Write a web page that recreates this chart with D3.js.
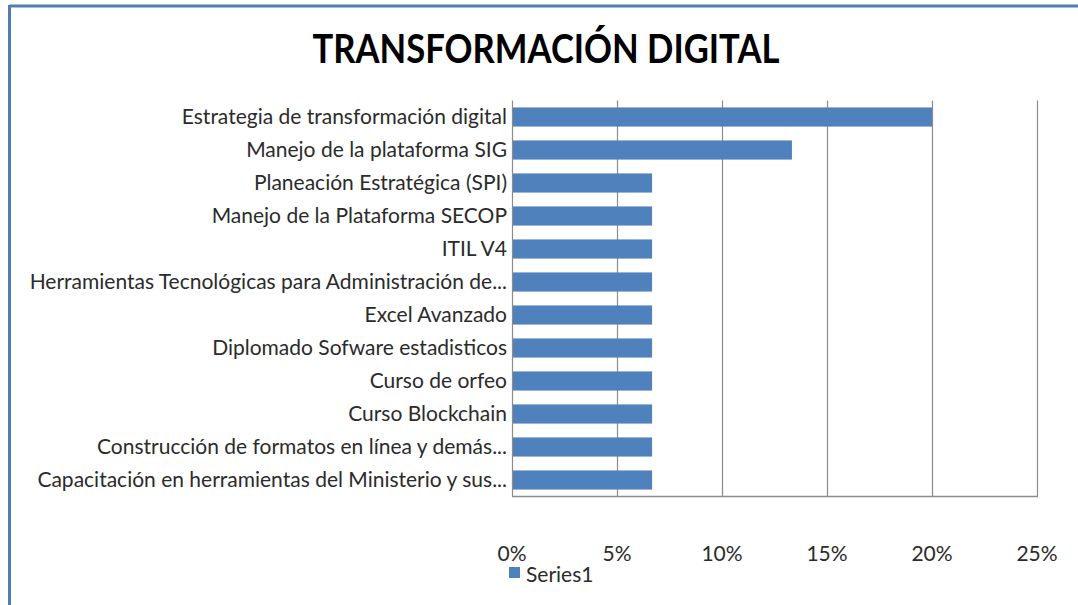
<!DOCTYPE html>
<html><head><meta charset="utf-8">
<script src="https://cdn.jsdelivr.net/npm/d3@7"></script>
<style>html,body{margin:0;padding:0;background:#fff;}svg{display:block;}</style>
</head><body>
<svg id="chart" width="1078" height="605"></svg>
<script>
const title = "TRANSFORMACIÓN DIGITAL";
const categories = [
  "Estrategia de transformación digital",
  "Manejo de la plataforma SIG",
  "Planeación Estratégica (SPI)",
  "Manejo de la Plataforma SECOP",
  "ITIL V4",
  "Herramientas Tecnológicas para Administración de...",
  "Excel Avanzado",
  "Diplomado Sofware estadisticos",
  "Curso de orfeo",
  "Curso Blockchain",
  "Construcción de formatos en línea y demás...",
  "Capacitación en herramientas del Ministerio y sus..."
];
const values = [0.20, 0.1333, 0.0667, 0.0667, 0.0667, 0.0667, 0.0667, 0.0667, 0.0667, 0.0667, 0.0667, 0.0667];
const xTicks = [0, 0.05, 0.10, 0.15, 0.20, 0.25];
const seriesName = "Series1";

(function(){
const svg = d3.select("#chart");
const W = 1078, H = 605;
const font = "Lato, 'Open Sans', sans-serif";
const barColor = "#4f81bd";
const txt = "#2b2b2b";

svg.append("rect").attr("x",0).attr("y",0).attr("width",W).attr("height",H).attr("fill","#fff");
// border
svg.append("line").attr("x1",9.5).attr("x2",W).attr("y1",6).attr("y2",6).attr("stroke","#4f7eb3").attr("stroke-width",3);
svg.append("line").attr("x1",9.5).attr("x2",9.5).attr("y1",5).attr("y2",H).attr("stroke","#4f7eb3").attr("stroke-width",3);

const pLeft = 512, pRight = 1037, pTop = 100.5, pBottom = 496.5;
const x = d3.scaleLinear().domain([0, 0.25]).range([pLeft, pRight]);
const y = d3.scaleBand().domain(categories).range([pTop, pBottom]).paddingInner(0.42).paddingOuter(0.21);

// gridlines
svg.append("g").selectAll("line").data(xTicks.slice(1)).join("line")
  .attr("x1", d => Math.round(x(d)) + 0.5).attr("x2", d => Math.round(x(d)) + 0.5)
  .attr("y1", pTop).attr("y2", pBottom)
  .attr("stroke", "#8c8c8c").attr("stroke-width", 1.2);

// bars
svg.append("g").selectAll("rect").data(values).join("rect")
  .attr("x", x(0)).attr("y", (d,i) => y(categories[i]))
  .attr("width", d => x(d) - x(0)).attr("height", y.bandwidth())
  .attr("fill", barColor);

// axes lines
svg.append("line").attr("x1", pLeft + 0.5).attr("x2", pLeft + 0.5).attr("y1", pTop).attr("y2", pBottom).attr("stroke","#8c8c8c").attr("stroke-width",1.2);
svg.append("line").attr("x1", pLeft).attr("x2", Math.round(pRight)+1).attr("y1", pBottom).attr("y2", pBottom).attr("stroke","#8c8c8c").attr("stroke-width",1.5);

// category labels
svg.append("g").selectAll("text").data(categories).join("text")
  .attr("x", 507).attr("y", d => y(d) + y.bandwidth()/2)
  .attr("dy", "0.35em").attr("text-anchor", "end")
  .attr("font-family", font).attr("font-size", 21).attr("fill", txt)
  .text(d => d);

// x tick labels
const fmt = d3.format(".0%");
svg.append("g").selectAll("text").data(xTicks).join("text")
  .attr("x", d => x(d)).attr("y", 561)
  .attr("text-anchor", "middle")
  .attr("font-family", font).attr("font-size", 21).attr("fill", txt)
  .text(d => fmt(d));

// title
svg.append("text").attr("x", 546).attr("y", 63).attr("text-anchor","middle")
  .attr("font-family", "Lato, 'Open Sans', sans-serif").attr("font-weight","bold").attr("font-size", 41)
  .attr("fill","#000").attr("textLength", 467).attr("lengthAdjust","spacingAndGlyphs")
  .text(title);

// legend
svg.append("rect").attr("x", 509).attr("y", 567).attr("width", 11).attr("height", 11).attr("fill", barColor);
svg.append("text").attr("x", 526).attr("y", 582).attr("font-family", font).attr("font-size", 21).attr("fill",txt).text(seriesName);
})();
</script>
</body></html>
